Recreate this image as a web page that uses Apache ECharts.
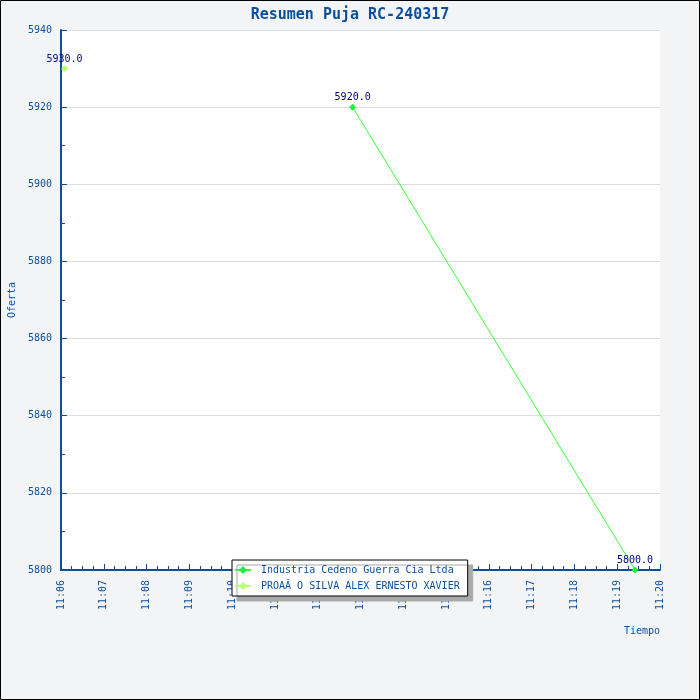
<!DOCTYPE html>
<html>
<head>
<meta charset="utf-8">
<script src="https://cdn.jsdelivr.net/npm/echarts@6/dist/echarts.min.js"></script>
<style>
  html, body { margin: 0; padding: 0; background: #fff; }
  #chart { width: 700px; height: 700px; }
</style>
</head>
<body>
<div id="chart"></div>
<script>
// datos de la puja
var postores = ['Industria Cedeno Guerra Cia Ltda', 'PROAÃ O SILVA ALEX ERNESTO XAVIER']
var horasCedeno = ['11:12:49', '11:19:25']
var ofertasCedeno = [5920, 5800]
var horasProano = ['11:06:05']
var ofertasProano = [5930]
var colores = ['#22ee44', '#bbff77']

var fuente = 'DejaVu Sans Mono'
var azul = '#0b4f9c'

function aSegundos(h) {
    var p = h.split(':')
    return (+p[0]) * 3600 + (+p[1]) * 60 + (+p[2])
}
function aHora(s) {
    var h = Math.floor(s / 3600)
    var m = Math.floor((s % 3600) / 60)
    return h + ':' + (m < 10 ? '0' + m : m)
}
function puntos(horas, valores) {
    var out = []
    for (var i = 0; i < horas.length; i++) {
        out.push([aSegundos(horas[i]), valores[i]])
    }
    return out
}

var chart = echarts.init(document.getElementById('chart'))
var option = {
    backgroundColor: '#f3f4f6',
    animation: false,
    textStyle: { fontFamily: fuente },
    title: {
        text: 'Resumen Puja RC-240317',
        left: 'center',
        top: 3,
        textStyle: { fontFamily: fuente, fontSize: 15, fontWeight: 'bold', color: azul }
    },
    graphic: [
        {
            type: 'rect',
            shape: { x: 0.5, y: 0.5, width: 699, height: 699 },
            style: { fill: 'none', stroke: '#000', lineWidth: 1 },
            silent: true
        }
    ],
    grid: {
        left: 61, top: 30, right: 40, bottom: 130,
        containLabel: false,
        outerBoundsMode: 'none',
        show: true, backgroundColor: '#fff', borderWidth: 0
    },
    legend: {
        orient: 'vertical',
        left: 232, top: 560,
        padding: [5, 8, 5, 2],
        itemGap: 6,
        itemWidth: 16,
        itemHeight: 10,
        backgroundColor: '#fff',
        borderColor: '#000',
        borderWidth: 1,
        borderRadius: 0,
        shadowColor: '#aaa',
        shadowOffsetX: 5,
        shadowOffsetY: 5,
        shadowBlur: 0,
        textStyle: { fontFamily: fuente, fontSize: 10, color: azul, padding: [0, 0, 0, 5] },
        data: postores
    },
    xAxis: {
        type: 'value',
        min: aSegundos('11:06:00'),
        max: aSegundos('11:20:00'),
        interval: 60,
        name: 'Tiempo',
        nameLocation: 'end',
        nameGap: 0,
        nameTextStyle: { color: azul, fontSize: 10, align: 'right', verticalAlign: 'top', padding: [56, 0, 0, 0] },
        axisLine: { lineStyle: { color: azul, width: 2 } },
        axisTick: { inside: true, length: 6, lineStyle: { color: azul } },
        minorTick: { show: true, splitNumber: 4, length: 4, lineStyle: { color: azul } },
        splitLine: { show: false },
        axisLabel: {
            rotate: 90, margin: 10, color: azul, fontSize: 10, fontFamily: fuente,
            formatter: function (v) { return aHora(v) }
        }
    },
    yAxis: {
        type: 'value',
        min: 5800,
        max: 5940,
        interval: 20,
        name: 'Oferta',
        nameLocation: 'middle',
        nameGap: 43,
        nameTextStyle: { color: azul, fontSize: 10 },
        axisLine: { show: true, lineStyle: { color: azul, width: 2 } },
        axisTick: { show: true, inside: true, length: 6, lineStyle: { color: azul } },
        minorTick: { show: true, splitNumber: 2, length: 4, lineStyle: { color: azul } },
        splitLine: { show: true, lineStyle: { color: '#dddddd' } },
        axisLabel: {
            color: azul, fontSize: 10, fontFamily: fuente, margin: 9,
            formatter: function (v) { return String(v) }
        }
    },
    series: [
        {
            name: postores[0],
            type: 'line',
            data: puntos(horasCedeno, ofertasCedeno),
            color: colores[0],
            symbol: 'diamond',
            symbolSize: 7,
            lineStyle: { width: 1, color: '#33ff33' },
            label: {
                show: true, position: 'top', distance: 1,
                color: '#000080', fontSize: 10, fontFamily: fuente,
                formatter: function (p) { return p.value[1].toFixed(1) }
            }
        },
        {
            name: postores[1],
            type: 'line',
            data: puntos(horasProano, ofertasProano),
            color: colores[1],
            symbol: 'diamond',
            symbolSize: 7,
            lineStyle: { width: 1 },
            label: {
                show: true, position: 'top', distance: 1,
                color: '#000080', fontSize: 10, fontFamily: fuente,
                formatter: function (p) { return p.value[1].toFixed(1) }
            }
        }
    ]
}
chart.setOption(option)
</script>
</body>
</html>
